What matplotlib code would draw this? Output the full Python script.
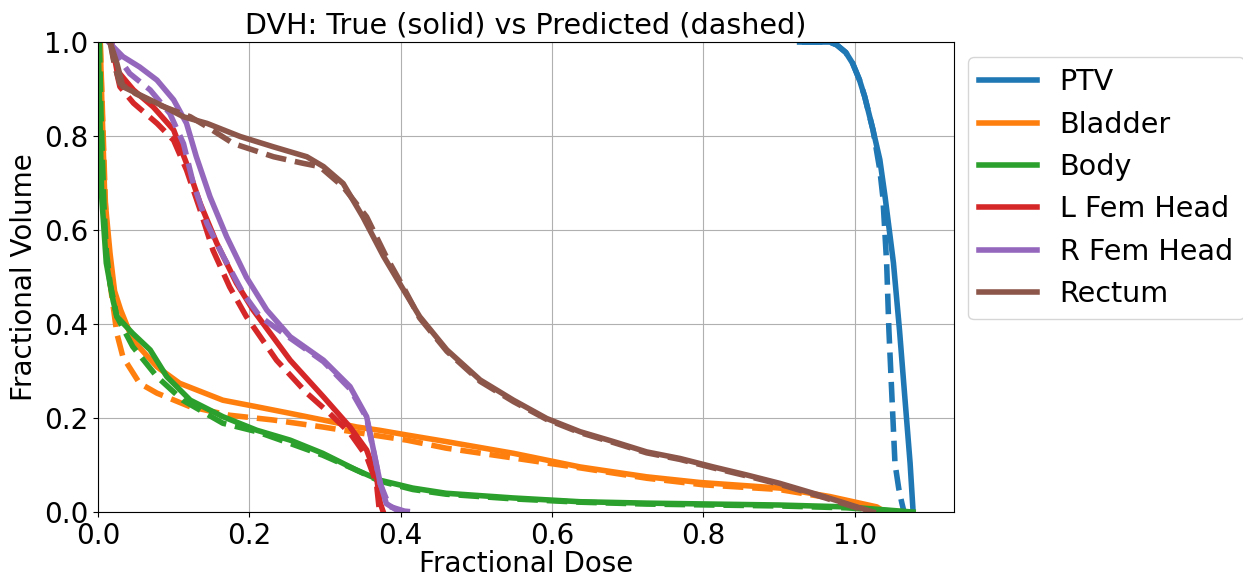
import matplotlib
matplotlib.use("Agg")
import matplotlib.pyplot as plt

structures = ["PTV", "Bladder", "Body", "L Fem Head", "R Fem Head", "Rectum"]

# true DVH curves (dose, volume)
ptv_dose = [0.927, 0.967, 0.976, 0.988, 0.997, 1.006, 1.013, 1.024, 1.033, 1.040, 1.051, 1.059, 1.066, 1.073, 1.077]
ptv_vol = [1.0, 1.0, 0.994, 0.978, 0.955, 0.92, 0.884, 0.813, 0.75, 0.67, 0.53, 0.387, 0.245, 0.104, 0.0]
bladder_dose = [0.003, 0.005, 0.009, 0.016, 0.022, 0.03, 0.046, 0.078, 0.108, 0.165, 0.21, 0.254, 0.297,
                0.342, 0.372, 0.408, 0.46, 0.549, 0.637, 0.725, 0.795, 0.901, 0.967, 1.029, 1.04]
bladder_vol = [1.0, 0.88, 0.67, 0.55, 0.47, 0.43, 0.366, 0.309, 0.274, 0.238, 0.224, 0.21, 0.196,
               0.181, 0.174, 0.164, 0.150, 0.125, 0.096, 0.075, 0.063, 0.051, 0.033, 0.011, 0.0]
body_dose = [0.0, 0.001, 0.005, 0.011, 0.02, 0.025, 0.046, 0.069, 0.091, 0.122, 0.165, 0.21, 0.254, 0.297,
             0.342, 0.372, 0.416, 0.46, 0.549, 0.637, 0.725, 0.9, 0.989, 1.077]
body_vol = [1.0, 0.95, 0.67, 0.53, 0.45, 0.416, 0.38, 0.345, 0.288, 0.238, 0.203, 0.174, 0.153, 0.125,
            0.089, 0.068, 0.051, 0.04, 0.03, 0.022, 0.019, 0.015, 0.011, 0.0]
lfem_dose = [0.018, 0.025, 0.047, 0.073, 0.1, 0.117, 0.135, 0.157, 0.183, 0.205, 0.254, 0.298, 0.333,
             0.355, 0.368, 0.373, 0.377]
lfem_vol = [1.0, 0.94, 0.898, 0.862, 0.813, 0.742, 0.657, 0.572, 0.487, 0.43, 0.323, 0.245, 0.181,
            0.132, 0.075, 0.019, 0.0]
rfem_dose = [0.014, 0.033, 0.055, 0.078, 0.1, 0.117, 0.13, 0.148, 0.17, 0.196, 0.223, 0.254, 0.298,
             0.333, 0.355, 0.364, 0.373, 0.381, 0.399]
rfem_vol = [1.0, 0.969, 0.947, 0.919, 0.877, 0.827, 0.756, 0.671, 0.586, 0.5, 0.43, 0.373, 0.323,
            0.267, 0.203, 0.132, 0.061, 0.018, 0.0]
rectum_dose = [0.016, 0.025, 0.033, 0.051, 0.078, 0.113, 0.144, 0.188, 0.232, 0.276, 0.298, 0.324, 0.35,
               0.377, 0.401, 0.425, 0.461, 0.505, 0.549, 0.593, 0.637, 0.681, 0.725, 0.769, 0.813, 0.857,
               0.901, 0.945, 0.989, 1.024]
rectum_vol = [1.0, 0.955, 0.905, 0.891, 0.87, 0.841, 0.827, 0.799, 0.777, 0.756, 0.735, 0.699, 0.628,
              0.545, 0.48, 0.416, 0.345, 0.281, 0.238, 0.199, 0.171, 0.15, 0.128, 0.114, 0.096, 0.079,
              0.061, 0.04, 0.018, 0.0]

# predicted DVH curves
ptv_dose_p = [0.93, 0.967, 0.976, 0.988, 0.997, 1.006, 1.013, 1.024, 1.033, 1.037, 1.042, 1.045, 1.049,
              1.053, 1.058, 1.062, 1.065]
ptv_vol_p = [1.0, 1.0, 0.994, 0.978, 0.955, 0.92, 0.884, 0.813, 0.728, 0.67, 0.53, 0.387, 0.245,
             0.104, 0.05, 0.02, 0.0]
bladder_dose_p = [0.003, 0.006, 0.01, 0.016, 0.025, 0.033, 0.055, 0.078, 0.122, 0.174, 0.231, 0.297, 0.363,
                  0.408, 0.46, 0.549, 0.637, 0.725, 0.8, 0.9, 0.967, 1.025, 1.035]
bladder_vol_p = [1.0, 0.85, 0.65, 0.487, 0.38, 0.33, 0.274, 0.253, 0.224, 0.206, 0.196, 0.181, 0.164,
                 0.153, 0.136, 0.115, 0.094, 0.072, 0.058, 0.048, 0.03, 0.01, 0.0]
body_dose_p = [0.002, 0.004, 0.008, 0.011, 0.016, 0.025, 0.046, 0.078, 0.112, 0.165, 0.21, 0.254, 0.297,
               0.342, 0.372, 0.416, 0.46, 0.549, 0.637, 0.725, 0.9, 0.989, 1.07]
body_vol_p = [1.0, 0.85, 0.65, 0.557, 0.487, 0.416, 0.352, 0.288, 0.238, 0.189, 0.171, 0.146, 0.121,
              0.089, 0.066, 0.048, 0.038, 0.028, 0.021, 0.017, 0.013, 0.009, 0.0]
lfem_dose_p = [0.017, 0.02, 0.029, 0.047, 0.078, 0.1, 0.117, 0.135, 0.152, 0.174, 0.196, 0.236, 0.276,
               0.306, 0.333, 0.355, 0.368, 0.372]
lfem_vol_p = [1.0, 0.969, 0.905, 0.87, 0.827, 0.791, 0.728, 0.643, 0.557, 0.479, 0.416, 0.323, 0.253,
              0.21, 0.168, 0.118, 0.061, 0.0]
rfem_dose_p = [0.018, 0.02, 0.042, 0.069, 0.095, 0.113, 0.126, 0.144, 0.166, 0.192, 0.214, 0.254, 0.298,
               0.333, 0.355, 0.364, 0.373, 0.385, 0.405, 0.418]
rfem_vol_p = [1.0, 0.983, 0.933, 0.898, 0.848, 0.784, 0.699, 0.614, 0.543, 0.465, 0.416, 0.37, 0.32,
              0.262, 0.2, 0.13, 0.06, 0.012, 0.002, 0.0]
rectum_dose_p = [0.016, 0.022, 0.029, 0.05, 0.078, 0.122, 0.144, 0.179, 0.232, 0.271, 0.293, 0.324, 0.355,
                 0.381, 0.403, 0.425, 0.461, 0.505, 0.549, 0.593, 0.637, 0.681, 0.725, 0.769, 0.813, 0.857,
                 0.901, 0.945, 0.989, 1.02]
rectum_vol_p = [1.0, 0.95, 0.912, 0.89, 0.868, 0.841, 0.82, 0.784, 0.756, 0.742, 0.735, 0.692, 0.628,
                0.543, 0.48, 0.413, 0.342, 0.278, 0.235, 0.197, 0.169, 0.148, 0.126, 0.112, 0.094, 0.077,
                0.059, 0.038, 0.016, 0.0]

true_curves = [(ptv_dose, ptv_vol), (bladder_dose, bladder_vol), (body_dose, body_vol),
               (lfem_dose, lfem_vol), (rfem_dose, rfem_vol), (rectum_dose, rectum_vol)]
pred_curves = [(ptv_dose_p, ptv_vol_p), (bladder_dose_p, bladder_vol_p), (body_dose_p, body_vol_p),
               (lfem_dose_p, lfem_vol_p), (rfem_dose_p, rfem_vol_p), (rectum_dose_p, rectum_vol_p)]

plt.rcParams["font.size"] = 20
fig = plt.figure(figsize=(12.43, 5.76), dpi=100)
ax = fig.add_axes([0.0788, 0.111, 0.6887, 0.816])

for i, name in enumerate(structures):
    c = "C%d" % i
    ax.plot(true_curves[i][0], true_curves[i][1], color=c, lw=4, label=name)
    ax.plot(pred_curves[i][0], pred_curves[i][1], color=c, lw=4, ls="--")

ax.set_xlim(0, 1.131)
ax.set_ylim(0, 1.0)
ax.grid(True)
ax.set_xlabel("Fractional Dose", labelpad=0)
ax.set_ylabel("Fractional Volume")
ax.set_title("DVH: True (solid) vs Predicted (dashed)", fontsize=20.6, pad=6)
fig.legend(loc="upper left", bbox_to_anchor=(968 / 1243, 1 - 57 / 576), fontsize=20.6,
           borderaxespad=0)

fig.savefig("out.png", dpi=100)
